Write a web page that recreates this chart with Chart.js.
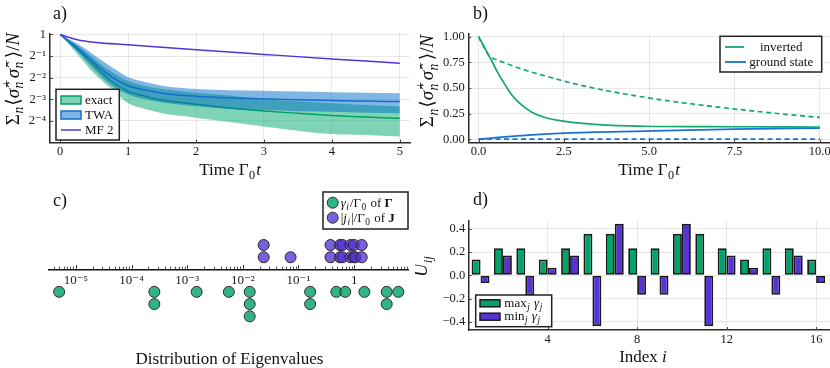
<!DOCTYPE html>
<html lang="en">
<head>
<meta charset="UTF-8">
<title>Decay, eigenvalue distribution and U_ij</title>
<script src="https://cdn.jsdelivr.net/npm/chart.js"></script>
<style>
    * { margin: 0; padding: 0; box-sizing: border-box; }
    body { width: 830px; height: 368px; background: #fff; position: relative; overflow: hidden; }
    canvas { position: absolute; }
    #panelA { left: 0; top: 0; }
    #panelB { left: 415px; top: 0; }
    #panelC { left: 0; top: 184px; }
    #panelD { left: 415px; top: 184px; }
</style>
</head>
<body>
<canvas id="panelA" width="415" height="184"></canvas>
<canvas id="panelB" width="415" height="184"></canvas>
<canvas id="panelC" width="415" height="184"></canvas>
<canvas id="panelD" width="415" height="184"></canvas>
<script>
// ---- a) excitation decay, log2 axis ----
const tA        = [0, 0.25, 0.5, 0.75, 1, 1.25, 1.5, 2, 2.5, 3, 3.5, 4, 4.5, 5];
const exactMean = [1, 0.624, 0.374, 0.225, 0.162, 0.138, 0.122, 0.107, 0.0947, 0.086, 0.0797, 0.0743, 0.0708, 0.0679];
const exactHi   = [1, 0.707, 0.460, 0.304, 0.225, 0.192, 0.174, 0.154, 0.141, 0.125, 0.117, 0.110, 0.104, 0.0988];
const exactLo   = [1, 0.536, 0.287, 0.177, 0.110, 0.0915, 0.0797, 0.0694, 0.0604, 0.0522, 0.0457, 0.0409, 0.0396, 0.038];
const twaMean   = [1, 0.651, 0.406, 0.259, 0.193, 0.168, 0.152, 0.138, 0.131, 0.127, 0.123, 0.120, 0.118, 0.116];
const twaHi     = [1, 0.747, 0.518, 0.354, 0.254, 0.218, 0.193, 0.174, 0.167, 0.164, 0.160, 0.157, 0.154, 0.152];
const twaLo     = [1, 0.582, 0.325, 0.196, 0.146, 0.125, 0.113, 0.100, 0.0915, 0.0884, 0.0854, 0.0836, 0.0813, 0.0797];
const tMF = [0, 0.1, 0.25, 0.5, 1, 2, 3, 4, 5];
const mf2 = [1, 0.93, 0.847, 0.779, 0.717, 0.611, 0.528, 0.457, 0.398];
const aXTicks = [0, 1, 2, 3, 4, 5];
const aYTicks = [1, 0.5, 0.25, 0.125, 0.0625];
const aYLabels = ['1', '2⁻¹', '2⁻²', '2⁻³', '2⁻⁴'];

// ---- b) inverted vs ground state ----
const tInv     = [0, 0.19, 0.39, 0.58, 0.78, 0.97, 1.26, 1.56, 1.95, 2.53, 3.51, 4.88, 7.5, 10];
const invSolid = [1, 0.885, 0.76, 0.64, 0.53, 0.435, 0.335, 0.265, 0.213, 0.175, 0.143, 0.128, 0.123, 0.12];
const tInvD    = [0, 0.12, 0.24, 0.35, 0.48, 0.72, 1.07, 1.5, 2.04, 2.53, 3.51, 4.88, 6, 7.53, 9, 10];
const invDash  = [1, 0.92, 0.845, 0.8, 0.78, 0.75, 0.707, 0.66, 0.61, 0.565, 0.49, 0.409, 0.356, 0.295, 0.244, 0.214];
const tGs      = [0, 0.2, 0.58, 1.56, 2.53, 4.88, 7.5, 10];
const gsSolid  = [0, 0.007, 0.019, 0.045, 0.062, 0.081, 0.1, 0.11];
const tGsD     = [0, 10];
const gsDash   = [0.003, 0.003];
const bXTicks = [0, 2.5, 5, 7.5, 10];
const bXLabels = ['0.0', '2.5', '5.0', '7.5', '10.0'];
const bYTicks = [0, 0.25, 0.5, 0.75, 1];
const bYLabels = ['0.00', '0.25', '0.50', '0.75', '1.00'];

// ---- c) eigenvalues, row = stacking level of equal values ----
const gammaVals = [5.0e-6, 2.57e-4, 2.57e-4, 1.48e-3, 5.6e-3, 0.0133, 0.0133, 0.0133, 0.162, 0.162, 0.479, 0.692, 1.53, 3.85, 3.85, 6.22];
const gammaRow  = [1, 1, 2, 1, 1, 1, 2, 3, 1, 2, 1, 1, 1, 1, 2, 1];
const jVals = [0.0237, 0.0237, 0.0721, 0.376, 0.376, 0.557, 0.557, 0.617, 0.617, 0.859, 0.859, 0.991, 0.991, 1.055, 1.368, 1.368];
const jRow  = [1, 2, 1, 1, 2, 1, 2, 1, 2, 1, 2, 1, 2, 1, 1, 2];
const cTicks = [1e-5, 1e-4, 1e-3, 1e-2, 1e-1, 1];
const cLabels = ['10⁻⁵', '10⁻⁴', '10⁻³', '10⁻²', '10⁻¹', '1'];

// ---- d) U_ij ----
const idx  = [1, 2, 3, 4, 5, 6, 7, 8, 9, 10, 11, 12, 13, 14, 15, 16];
const uMax = [0.137, 0.234, 0.234, 0.137, 0.234, 0.357, 0.357, 0.234, 0.234, 0.357, 0.357, 0.234, 0.137, 0.234, 0.234, 0.137];
const uMin = [-0.066, 0.171, -0.171, 0.066, 0.171, -0.437, 0.443, -0.166, -0.166, 0.443, -0.437, 0.171, 0.066, -0.166, 0.171, -0.066];
const dXTicks = [4, 8, 12, 16];
const dYTicks = [-0.4, -0.2, 0, 0.2, 0.4];
const dYLabels = ['−0.4', '−0.2', '0.0', '0.2', '0.4'];

const SERIF = "'Liberation Serif', 'DejaVu Serif', serif";
const GRID = 'rgba(0,0,0,0.09)';
const AXIS = '#2b2b2b';
const GREEN = 'rgb(0,160,100)';
const GREEN_BAND = 'rgba(0,170,110,0.5)';
const BLUE = 'rgb(20,110,205)';
const BLUE_BAND = 'rgba(0,110,200,0.5)';
const PURPLE = 'rgb(85,50,220)';
const GREEN_B = 'rgb(20,168,110)';
const BLUE_B = 'rgb(25,115,210)';
const GREEN_DOT = 'rgba(0,160,100,0.8)';
const PURPLE_DOT = 'rgba(85,51,214,0.78)';
const BAR_GREEN = 'rgb(0,163,104)';
const BAR_PURPLE = 'rgb(85,51,214)';

Chart.defaults.font.family = SERIF;
Chart.defaults.font.size = 12.5;
Chart.defaults.color = '#1a1a1a';
Chart.defaults.animation = false;
Chart.defaults.responsive = false;
Chart.defaults.plugins.legend.display = false;
Chart.defaults.plugins.tooltip.enabled = false;

const pts = (xs, ys) => xs.map((x, i) => ({ x: x, y: ys[i] }));

function fixed(w, h) {
    return s => {
        if (w !== null) s.width = w;
        if (h !== null) s.height = h;
        s.paddingLeft = s.paddingRight = s.paddingTop = s.paddingBottom = 0;
    };
}
function setTicks(vals) {
    return s => { s.ticks = vals.map(v => ({ value: v })); };
}
function labelFrom(vals, labels) {
    return v => {
        const i = vals.findIndex(t => t === v || Math.abs(t - v) <= 1e-9 * Math.max(1e-12, Math.abs(t)));
        return i < 0 ? '' : labels[i];
    };
}

// small rich-text helper for the math labels
function fontStr(size, it, bold) {
    return (it ? 'italic ' : '') + (bold ? 'bold ' : '') + size + 'px ' + SERIF;
}
function segWidth(ctx, s, size) {
    if (s.t !== undefined) {
        ctx.font = fontStr(size, s.it, s.b);
        return ctx.measureText(s.t).width;
    }
    ctx.font = fontStr(size * 0.72, s.it);
    let w = 0;
    if (s.sub) w = Math.max(w, ctx.measureText(s.sub).width);
    if (s.sup) w = Math.max(w, ctx.measureText(s.sup).width);
    return w + 1.5;
}
function drawRich(ctx, segs, x, y, size, align) {
    ctx.save();
    ctx.textBaseline = 'alphabetic';
    ctx.textAlign = 'left';
    ctx.fillStyle = '#111';
    const ws = segs.map(s => segWidth(ctx, s, size));
    const total = ws.reduce((a, b) => a + b, 0);
    let cx = align === 'center' ? x - total / 2 : x;
    segs.forEach((s, i) => {
        if (s.t !== undefined) {
            ctx.font = fontStr(size, s.it, s.b);
            ctx.fillText(s.t, cx, y);
        } else {
            ctx.font = fontStr(size * 0.72, s.it);
            if (s.sup) ctx.fillText(s.sup, cx + 0.5, y - size * 0.42);
            if (s.sub) ctx.fillText(s.sub, cx + 0.5, y + size * 0.24);
        }
        cx += ws[i];
    });
    ctx.restore();
}
function drawRot(ctx, segs, cx, cy, size) {
    ctx.save();
    ctx.translate(cx, cy);
    ctx.rotate(-Math.PI / 2);
    drawRich(ctx, segs, 0, size * 0.33, size, 'center');
    ctx.restore();
}
function legendBox(ctx, x, y, w, h) {
    ctx.save();
    ctx.fillStyle = '#fff';
    ctx.fillRect(x, y, w, h);
    ctx.strokeStyle = '#222';
    ctx.lineWidth = 1.5;
    ctx.strokeRect(x, y, w, h);
    ctx.restore();
}
function inTicks(chart) {
    const { ctx, chartArea: ca, scales } = chart;
    ctx.save();
    ctx.strokeStyle = '#444';
    ctx.lineWidth = 1;
    ctx.beginPath();
    scales.x.ticks.forEach(t => {
        const p = Math.round(scales.x.getPixelForValue(t.value)) + 0.5;
        ctx.moveTo(p, ca.bottom); ctx.lineTo(p, ca.bottom - 3);
    });
    scales.y.ticks.forEach(t => {
        const p = Math.round(scales.y.getPixelForValue(t.value)) + 0.5;
        ctx.moveTo(ca.left, p); ctx.lineTo(ca.left + 3, p);
    });
    ctx.stroke();
    ctx.restore();
}

const sigmaTitle = [
    { t: 'Σ' }, { sub: 'n', it: true }, { t: '⟨' }, { t: 'σ̂', it: true }, { sup: '+', sub: 'n', it: true },
    { t: 'σ̂', it: true }, { sup: '−', sub: 'n', it: true }, { t: '⟩/' }, { t: 'N', it: true }
];
const timeTitle = [{ t: 'Time Γ' }, { sub: '0' }, { t: 't', it: true }];

function gridScale(extra) {
    return Object.assign({
        type: 'linear',
        grid: { color: GRID, lineWidth: 1, drawTicks: false },
        border: { color: AXIS, width: 1.5 },
    }, extra);
}

// ---------- a) ----------
new Chart(document.getElementById('panelA'), {
    type: 'line',
    data: {
        datasets: [
            { label: 'exact lo', data: pts(tA, exactLo), borderWidth: 0, pointRadius: 0, fill: false, order: 6, cubicInterpolationMode: 'monotone' },
            { label: 'exact', data: pts(tA, exactHi), borderWidth: 0, pointRadius: 0, backgroundColor: GREEN_BAND, fill: '-1', order: 5, cubicInterpolationMode: 'monotone' },
            { label: 'exact mean', data: pts(tA, exactMean), borderColor: GREEN, borderWidth: 1.5, pointRadius: 0, fill: false, order: 4, cubicInterpolationMode: 'monotone' },
            { label: 'TWA lo', data: pts(tA, twaLo), borderWidth: 0, pointRadius: 0, fill: false, order: 3, cubicInterpolationMode: 'monotone' },
            { label: 'TWA', data: pts(tA, twaHi), borderWidth: 0, pointRadius: 0, backgroundColor: BLUE_BAND, fill: '-1', order: 2, cubicInterpolationMode: 'monotone' },
            { label: 'TWA mean', data: pts(tA, twaMean), borderColor: BLUE, borderWidth: 1.5, pointRadius: 0, fill: false, order: 1, cubicInterpolationMode: 'monotone' },
            { label: 'MF 2', data: pts(tMF, mf2), borderColor: PURPLE, borderWidth: 1.5, pointRadius: 0, fill: false, order: 0, cubicInterpolationMode: 'monotone' }
        ]
    },
    options: {
        layout: { padding: { top: 33.5, right: 5, left: 0, bottom: 0 } },
        scales: {
            x: gridScale({ min: -0.15, max: 5.15, afterBuildTicks: setTicks(aXTicks), afterFit: fixed(null, 41.5),
                ticks: { padding: 2, autoSkip: false, maxRotation: 0, callback: v => String(v) } }),
            y: gridScale({ type: 'logarithmic', min: 0.03125, max: 1.032, afterBuildTicks: setTicks(aYTicks), afterFit: fixed(50, null),
                ticks: { padding: 4, autoSkip: false, callback: labelFrom(aYTicks, aYLabels) } })
        }
    },
    plugins: [{
        id: 'annotA',
        afterDraw(chart) {
            const ctx = chart.ctx;
            inTicks(chart);
            drawRich(ctx, [{ t: 'a)' }], 53, 18.5, 18, 'left');
            drawRich(ctx, timeTitle, 230, 174.5, 17, 'center');
            drawRot(ctx, sigmaTitle, 12.5, 79, 19);
            // legend
            legendBox(ctx, 56, 89.3, 63.3, 50.7);
            const ds = chart.data.datasets;
            ctx.save();
            ctx.lineWidth = 1.5;
            ctx.fillStyle = GREEN_BAND; ctx.strokeStyle = GREEN;
            ctx.fillRect(61, 96, 20, 8); ctx.strokeRect(61, 96, 20, 8);
            ctx.fillStyle = BLUE_BAND; ctx.strokeStyle = BLUE;
            ctx.fillRect(61, 111, 20, 8); ctx.strokeRect(61, 111, 20, 8);
            ctx.strokeStyle = PURPLE;
            ctx.beginPath(); ctx.moveTo(61, 130); ctx.lineTo(81, 130); ctx.stroke();
            ctx.restore();
            drawRich(ctx, [{ t: ds[1].label }], 85, 104, 13, 'left');
            drawRich(ctx, [{ t: ds[4].label }], 85, 119, 13, 'left');
            drawRich(ctx, [{ t: ds[6].label }], 85, 134, 13, 'left');
        }
    }]
});

// ---------- b) ----------
new Chart(document.getElementById('panelB'), {
    type: 'line',
    data: {
        datasets: [
            { label: 'inverted', data: pts(tInv, invSolid), borderColor: GREEN_B, borderWidth: 1.7, pointRadius: 0, cubicInterpolationMode: 'monotone' },
            { label: 'inverted MF', data: pts(tInvD, invDash), borderColor: GREEN_B, borderWidth: 1.7, borderDash: [5, 3.5], pointRadius: 0, cubicInterpolationMode: 'monotone' },
            { label: 'ground state', data: pts(tGs, gsSolid), borderColor: BLUE_B, borderWidth: 1.7, pointRadius: 0, cubicInterpolationMode: 'monotone' },
            { label: 'ground state MF', data: pts(tGsD, gsDash), borderColor: BLUE_B, borderWidth: 1.7, borderDash: [5, 3.5], pointRadius: 0 }
        ]
    },
    options: {
        layout: { padding: { top: 33.5, right: 0, left: 0, bottom: 0 } },
        scales: {
            x: gridScale({ min: -0.3, max: 10.3, afterBuildTicks: setTicks(bXTicks), afterFit: fixed(null, 41.5),
                ticks: { padding: 2, autoSkip: false, maxRotation: 0, callback: labelFrom(bXTicks, bXLabels) } }),
            y: gridScale({ min: -0.03, max: 1.03, afterBuildTicks: setTicks(bYTicks), afterFit: fixed(53.3, null),
                ticks: { padding: 3.5, autoSkip: false, callback: labelFrom(bYTicks, bYLabels) } })
        }
    },
    plugins: [{
        id: 'annotB',
        afterDraw(chart) {
            const ctx = chart.ctx;
            inTicks(chart);
            drawRich(ctx, [{ t: 'b)' }], 58, 18.5, 18, 'left');
            drawRich(ctx, timeTitle, 234, 174.5, 17, 'center');
            drawRot(ctx, sigmaTitle, 12, 81, 19);
            legendBox(ctx, 305, 36.3, 101.7, 35.7);
            const ds = chart.data.datasets;
            ctx.save();
            ctx.lineWidth = 1.8;
            ctx.strokeStyle = GREEN_B;
            ctx.beginPath(); ctx.moveTo(310, 47); ctx.lineTo(329, 47); ctx.stroke();
            ctx.strokeStyle = BLUE_B;
            ctx.beginPath(); ctx.moveTo(310, 62); ctx.lineTo(331, 62); ctx.stroke();
            ctx.restore();
            drawRich(ctx, [{ t: ds[0].label }], 366.3, 51, 13, 'center');
            drawRich(ctx, [{ t: ds[2].label }], 366.3, 66, 13, 'center');
        }
    }]
});

// ---------- c) ----------
new Chart(document.getElementById('panelC'), {
    type: 'scatter',
    data: {
        datasets: [
            { label: 'gamma', data: pts(gammaVals, gammaRow), yAxisID: 'y2', backgroundColor: GREEN_DOT, borderColor: '#2e2e2e', borderWidth: 1, pointRadius: 5.5 },
            { label: 'j', data: pts(jVals, jRow), yAxisID: 'y', backgroundColor: PURPLE_DOT, borderColor: '#262626', borderWidth: 1, pointRadius: 5.5 }
        ]
    },
    options: {
        layout: { padding: { top: 6, right: 5, left: 49, bottom: 38 } },
        scales: {
            x: {
                type: 'logarithmic', position: { y: 0 },
                min: Math.pow(10, -5.483), max: Math.pow(10, 0.977),
                afterBuildTicks: setTicks(cTicks), afterFit: fixed(null, null),
                grid: { display: true, drawOnChartArea: false, drawTicks: false },
                border: { color: '#111', width: 1.6 },
                ticks: { padding: 3, autoSkip: false, maxRotation: 0, font: { size: 13 }, callback: labelFrom(cTicks, cLabels) }
            },
            y: { type: 'linear', display: false, min: -4.935, max: 6.447 },
            y2: { type: 'linear', display: false, reverse: true, min: -7.268, max: 4.114 }
        }
    },
    plugins: [{
        id: 'annotC',
        afterDraw(chart) {
            const ctx = chart.ctx;
            const sx = chart.scales.x;
            const axisY = chart.scales.y.getPixelForValue(0);
            // minor / major ticks standing on the axis
            ctx.save();
            ctx.strokeStyle = '#333';
            ctx.lineWidth = 1;
            ctx.beginPath();
            for (let k = -6; k <= 1; k++) {
                for (let m = 1; m <= 9; m++) {
                    const v = m * Math.pow(10, k);
                    if (v < sx.min || v > sx.max) continue;
                    const p = Math.round(sx.getPixelForValue(v)) + 0.5;
                    ctx.moveTo(p, axisY - 0.8);
                    ctx.lineTo(p, axisY - (m === 1 ? 4.5 : 2.8));
                }
            }
            ctx.stroke();
            ctx.restore();
            drawRich(ctx, [{ t: 'c)' }], 53, 21.5, 18, 'left');
            drawRich(ctx, [{ t: 'Distribution of Eigenvalues' }], 229.5, 180, 17, 'center');
            legendBox(ctx, 323, 8, 85, 37);
            ctx.save();
            ctx.lineWidth = 1;
            ctx.strokeStyle = '#2e2e2e';
            ctx.fillStyle = GREEN_DOT;
            ctx.beginPath(); ctx.arc(332.7, 18.7, 5.5, 0, 2 * Math.PI); ctx.fill(); ctx.stroke();
            ctx.fillStyle = PURPLE_DOT;
            ctx.beginPath(); ctx.arc(332.7, 33.7, 5.5, 0, 2 * Math.PI); ctx.fill(); ctx.stroke();
            ctx.restore();
            drawRich(ctx, [{ t: 'γ', it: true }, { sub: 'i', it: true }, { t: '/Γ' }, { sub: '0' }, { t: ' of ' }, { t: 'Γ', b: true }], 340.7, 22.5, 13, 'left');
            drawRich(ctx, [{ t: '|' }, { t: 'j', it: true }, { sub: 'i', it: true }, { t: '|/Γ' }, { sub: '0' }, { t: ' of ' }, { t: 'J', b: true }], 340.7, 37.5, 13, 'left');
        }
    }]
});

// ---------- d) ----------
new Chart(document.getElementById('panelD'), {
    type: 'bar',
    data: {
        datasets: [
            { label: 'max', data: pts(idx, uMax), backgroundColor: BAR_GREEN, borderColor: '#1a1a1a', borderWidth: 1.8, borderSkipped: false, categoryPercentage: 0.8, barPercentage: 1 },
            { label: 'min', data: pts(idx, uMin), backgroundColor: BAR_PURPLE, borderColor: '#1a1a1a', borderWidth: 1.8, borderSkipped: false, categoryPercentage: 0.8, barPercentage: 1 }
        ]
    },
    options: {
        layout: { padding: { top: 36.7, right: 0, left: 0, bottom: 0 } },
        scales: {
            x: gridScale({ min: 0.47, max: 16.62, offset: false, afterBuildTicks: setTicks(dXTicks), afterFit: fixed(null, 38),
                grid: { color: GRID, lineWidth: 1, drawTicks: false, offset: false },
                ticks: { padding: 2, autoSkip: false, maxRotation: 0, callback: v => String(v) } }),
            y: gridScale({ min: -0.47, max: 0.47, afterBuildTicks: setTicks(dYTicks), afterFit: fixed(53.7, null),
                ticks: { padding: 3.5, autoSkip: false, callback: labelFrom(dYTicks, dYLabels) } })
        }
    },
    plugins: [{
        id: 'annotD',
        afterDraw(chart) {
            const ctx = chart.ctx;
            inTicks(chart);
            drawRich(ctx, [{ t: 'd)' }], 58, 20.5, 18, 'left');
            drawRich(ctx, [{ t: 'Index ' }, { t: 'i', it: true }], 228, 177.7, 17, 'center');
            drawRot(ctx, [{ t: 'U', it: true }, { sub: 'ij', it: true }], 6.5, 82, 18);
            legendBox(ctx, 60.7, 111, 76, 31.7);
            ctx.save();
            ctx.lineWidth = 1.5;
            ctx.strokeStyle = '#1a1a1a';
            ctx.fillStyle = BAR_GREEN;
            ctx.fillRect(65, 115.8, 20, 7); ctx.strokeRect(65, 115.8, 20, 7);
            ctx.fillStyle = BAR_PURPLE;
            ctx.fillRect(65, 129.2, 20, 7); ctx.strokeRect(65, 129.2, 20, 7);
            ctx.restore();
            drawRich(ctx, [{ t: 'max' }, { sub: 'j', it: true }, { t: ' ' }, { t: 'γ', it: true }, { sub: 'j', it: true }], 89.3, 122.5, 13, 'left');
            drawRich(ctx, [{ t: 'min' }, { sub: 'j', it: true }, { t: ' ' }, { t: 'γ', it: true }, { sub: 'j', it: true }], 89.3, 136, 13, 'left');
        }
    }]
});
</script>
</body>
</html>
